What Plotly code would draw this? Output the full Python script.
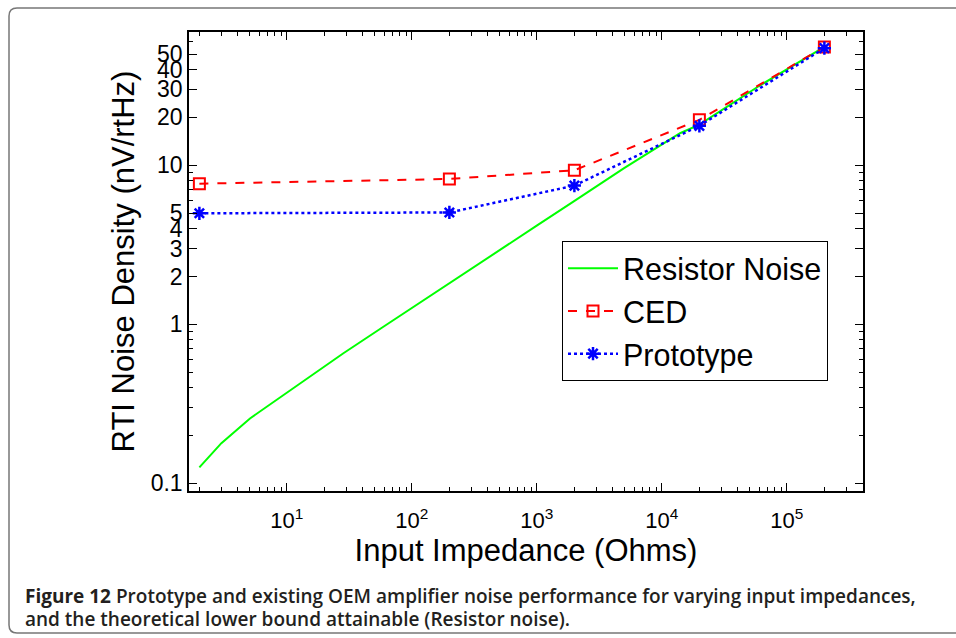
import plotly.graph_objects as go

# ---- data ----
impedance_pts = [2, 200, 2000, 20000, 200000]
ced_vals = [7.66, 8.2, 9.3, 19.3, 55.5]
proto_vals = [4.99, 5.05, 7.45, 17.7, 54.5]

resistor_x = [2, 3, 5.08, 10, 28.4, 59.3, 124, 300, 1000, 1963, 5000, 14000, 20000, 60000, 200000]
resistor_y = [0.126, 0.179, 0.256, 0.372, 0.658, 0.966, 1.42, 2.24, 4.17, 5.91, 9.6, 15.9, 18.0, 31.5, 55.5]

y_tickvals = [0.1, 1, 2, 3, 4, 5, 10, 20, 30, 40, 50]
y_ticktext = ["0.1", "1", "2", "3", "4", "5", "10", "20", "30", "40", "50"]
y_minor = [0.2, 0.3, 0.4, 0.5, 0.6, 0.7, 0.8, 0.9, 6, 7, 8, 9, 60]
x_tickvals = [10, 100, 1000, 10000, 100000]
x_ticktext = ["10<sup>1</sup>", "10<sup>2</sup>", "10<sup>3</sup>", "10<sup>4</sup>", "10<sup>5</sup>"]
x_minor = [m * 10 ** e for e in range(0, 6) for m in range(2, 10)]

caption_1 = "<b>Figure 12</b> Prototype and existing OEM amplifier noise performance for varying input impedances,"
caption_2 = "and the theoretical lower bound attainable (Resistor noise)."

W, H = 956, 638
L, R, T, B = 189, 863, 32, 491

fig = go.Figure()
fig.add_trace(go.Scatter(x=resistor_x, y=resistor_y, mode="lines", name="Resistor Noise",
                         line=dict(color="#00ff00", width=2)))
fig.add_trace(go.Scatter(x=impedance_pts, y=ced_vals, mode="lines+markers", name="CED",
                         line=dict(color="#ff0000", width=2, dash="dash"),
                         marker=dict(symbol="square-open", size=11, color="#ff0000",
                                     line=dict(width=2, color="#ff0000"))))
fig.add_trace(go.Scatter(x=impedance_pts, y=proto_vals, mode="lines+markers", name="Prototype",
                         line=dict(color="#0000ff", width=2.5, dash="dot"),
                         marker=dict(symbol="asterisk-open", size=11, color="#0000ff",
                                     line=dict(width=2.5, color="#0000ff"))))

FAM = "Liberation Sans, Arial, sans-serif"
title_font = dict(family=FAM, size=31, color="black")

fig.update_xaxes(type="log", range=[0.218, 5.61], tickvals=x_tickvals, ticktext=x_ticktext,
                 ticks="inside", ticklen=8, tickwidth=1, tickcolor="black",
                 showline=True, linecolor="black", linewidth=1.5, mirror="allticks",
                 showgrid=False, zeroline=False,
                 tickfont=dict(family=FAM, size=22, color="black"), ticklabelstandoff=9,
                 minor=dict(tickvals=x_minor, ticks="inside", ticklen=4, tickcolor="black", showgrid=False),
                 title=dict(text="Input Impedance (Ohms)", font=title_font, standoff=7))
fig.update_yaxes(type="log", range=[-1.048, 1.838], tickvals=y_tickvals, ticktext=y_ticktext,
                 ticks="inside", ticklen=8, tickwidth=1, tickcolor="black",
                 showline=True, linecolor="black", linewidth=1.5, mirror="allticks",
                 showgrid=False, zeroline=False,
                 tickfont=dict(family=FAM, size=23, color="black"),
                 minor=dict(tickvals=y_minor, ticks="inside", ticklen=4, tickcolor="black", showgrid=False),
                 title=dict(text="RTI Noise Density (nV/rtHz)", font=title_font, standoff=7))

# rounded frame around the figure (extends past the right edge)
def px_to_paper_x(px):
    return (px - L) / (R - L)

def px_to_paper_y(py):
    return (B - py) / (B - T)

x0, x1 = px_to_paper_x(9), px_to_paper_x(990)
y0, y1 = px_to_paper_y(633), px_to_paper_y(8)
rx, ry = 8 / (R - L), 8 / (B - T)
path = (f"M {x0+rx},{y1} L {x1},{y1} L {x1},{y0} L {x0+rx},{y0} "
        f"Q {x0},{y0} {x0},{y0+ry} L {x0},{y1-ry} Q {x0},{y1} {x0+rx},{y1}")
fig.add_shape(type="path", path=path, xref="paper", yref="paper",
              line=dict(color="#777777", width=1.5))

cap_font = dict(family="Open Sans, Noto Sans, sans-serif", size=19, color="#231f20", weight=600)
fig.add_annotation(text=caption_1, xref="paper", yref="paper", x=px_to_paper_x(23), y=px_to_paper_y(596),
                   xanchor="left", yanchor="middle", showarrow=False, font=cap_font, align="left")
fig.add_annotation(text=caption_2, xref="paper", yref="paper", x=px_to_paper_x(23), y=px_to_paper_y(619),
                   xanchor="left", yanchor="middle", showarrow=False, font=cap_font, align="left")

fig.update_layout(
    width=W, height=H,
    margin=dict(l=L, r=W - R, t=T, b=H - B, pad=0),
    paper_bgcolor="white", plot_bgcolor="white",
    showlegend=True,
    legend=dict(x=px_to_paper_x(562), y=px_to_paper_y(241), xanchor="left", yanchor="top",
                bgcolor="white", bordercolor="black", borderwidth=1,
                font=dict(family=FAM, size=30.5, color="black"),
                itemwidth=50, tracegroupgap=0),
)

fig.write_html("out.html")
